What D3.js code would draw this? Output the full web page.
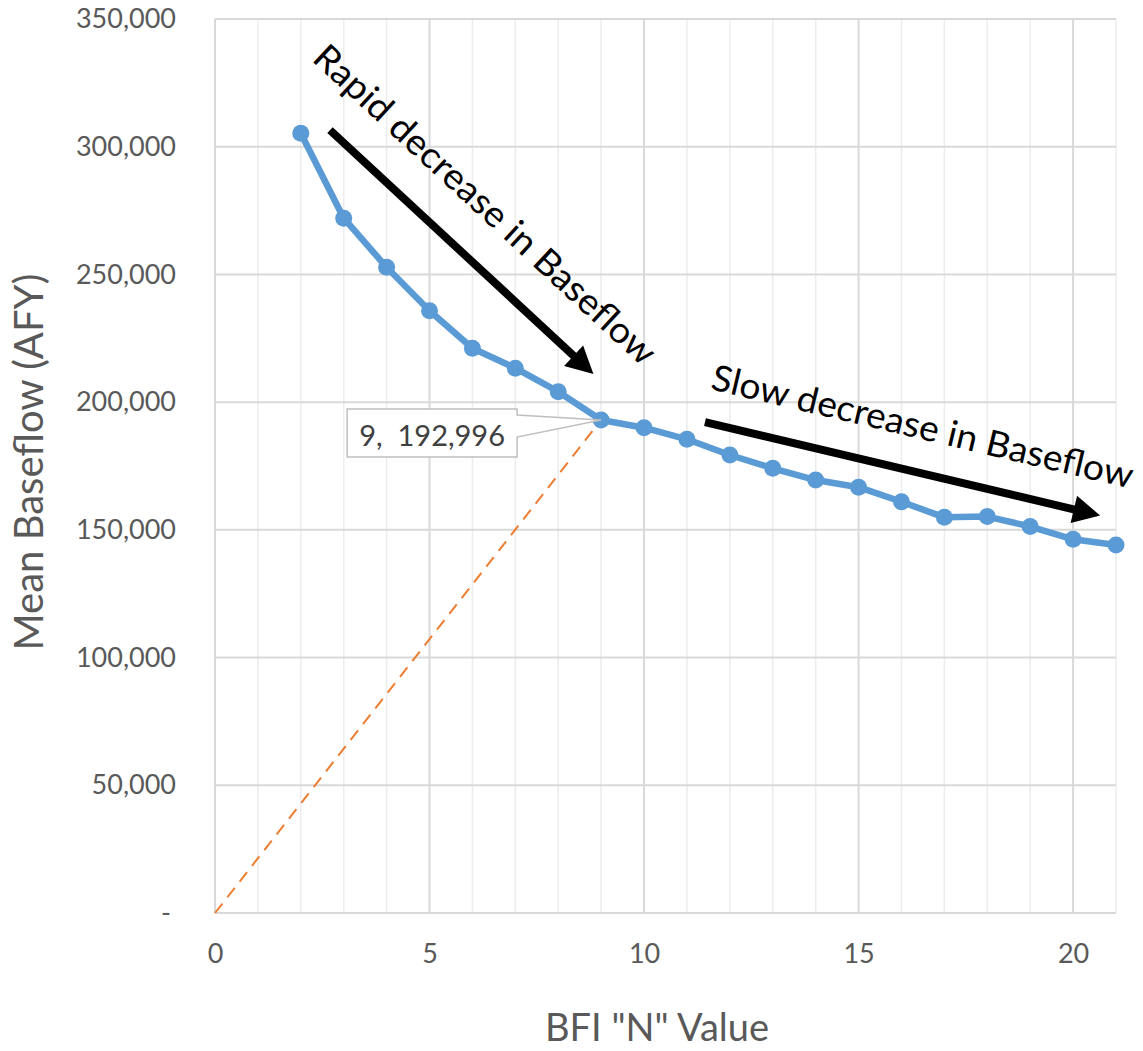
<!DOCTYPE html>
<html><head><meta charset="utf-8">
<script src="https://cdn.jsdelivr.net/npm/d3@7"></script>
<style>body{margin:0;background:#fff}svg{display:block}</style>
</head><body>
<svg id="c" width="1143" height="1051"></svg>
<script>
const nValues = [2,3,4,5,6,7,8,9,10,11,12,13,14,15,16,17,18,19,20,21];
const baseflow = [305300,272000,252800,235800,221100,213300,204100,192996,190000,185450,179300,174100,169500,166700,161000,154900,155200,151300,146300,144100];
const trendLine = [[0,0],[9,192996]];
const xTicks = [0,5,10,15,20];
const yTicks = [0,50000,100000,150000,200000,250000,300000,350000];
const yTickLabels = ["-","50,000","100,000","150,000","200,000","250,000","300,000","350,000"];
const arrows = [
  {from:[2.68,306500], to:[8.82,211000], text:"Rapid decrease in Baseflow", at:[6.32,277800], len:452},
  {from:[11.42,192200], to:[20.63,155600], text:"Slow decrease in Baseflow", at:[16.50,191000], len:432}
];
const callout = {point:[9,192996], label:"9,  192,996"};

const svg = d3.select("#c");
const font = "Lato, 'Open Sans', sans-serif";
const x = d3.scaleLinear().domain([0,21]).range([215,1116]);
const y = d3.scaleLinear().domain([0,350000]).range([913,19]);

// grid
const g = svg.append("g");
g.selectAll(".vmin").data(d3.range(1,22).filter(v=>v%5!==0)).join("line")
  .attr("x1",d=>x(d)).attr("x2",d=>x(d)).attr("y1",y(350000)).attr("y2",y(0))
  .attr("stroke","#ececec").attr("stroke-width",1.5);
g.selectAll(".vmaj").data(xTicks).join("line")
  .attr("x1",d=>x(d)).attr("x2",d=>x(d)).attr("y1",y(350000)).attr("y2",y(0))
  .attr("stroke","#d9d9d9").attr("stroke-width",2);
g.selectAll(".h").data(yTicks).join("line")
  .attr("x1",x(0)).attr("x2",x(21)).attr("y1",d=>y(d)).attr("y2",d=>y(d))
  .attr("stroke","#d9d9d9").attr("stroke-width",2);

// axes labels
const xa = svg.append("g").attr("transform",`translate(0,${y(0)})`)
  .call(d3.axisBottom(x).tickValues(xTicks).tickSize(0).tickPadding(31));
xa.select(".domain").remove();
xa.selectAll("text").attr("font-family",font).attr("font-size",27).attr("fill","#595959");

const ya = svg.append("g").attr("transform",`translate(${x(0)},0)`)
  .call(d3.axisLeft(y).tickValues(yTicks).tickSize(0).tickPadding(39)
    .tickFormat((d,i)=>yTickLabels[i]));
ya.select(".domain").remove();
ya.selectAll("text").attr("font-family",font).attr("font-size",27).attr("fill","#595959");
ya.selectAll(".tick").filter(d=>d===0).select("text").attr("dx",-5);

svg.append("text").attr("x",657).attr("y",1041).attr("text-anchor","middle")
  .attr("font-family",font).attr("font-size",38).attr("fill","#595959").text('BFI "N" Value');
svg.append("text").attr("transform","translate(43,462) rotate(-90)").attr("text-anchor","middle")
  .attr("font-family",font).attr("font-size",40).attr("fill","#595959").text("Mean Baseflow (AFY)");

// trend dashed
svg.append("path").datum(trendLine)
  .attr("d",d3.line().x(d=>x(d[0])).y(d=>y(d[1])))
  .attr("fill","none").attr("stroke","#ED7D31").attr("stroke-width",2).attr("stroke-dasharray","12,8");

// series
const data = nValues.map((n,i)=>[n,baseflow[i]]);
svg.append("path").datum(data)
  .attr("d",d3.line().x(d=>x(d[0])).y(d=>y(d[1])))
  .attr("fill","none").attr("stroke","#5B9BD5").attr("stroke-width",6.5).attr("stroke-linejoin","round");
svg.selectAll(".pt").data(data).join("circle")
  .attr("cx",d=>x(d[0])).attr("cy",d=>y(d[1])).attr("r",8.5).attr("fill","#5B9BD5");

// callout
const px = x(callout.point[0]), py = y(callout.point[1]);
const bx = px-254, byy = py-11, bw = 170, bh = 48;
svg.append("path")
  .attr("d",`M${bx},${byy} H${bx+bw} V${byy+6} L${px},${py} L${bx+bw},${byy+28} V${byy+bh} H${bx} Z`)
  .attr("fill","#fff").attr("stroke","#bfbfbf").attr("stroke-width",1.5);
svg.append("text").attr("x",bx+bw/2).attr("y",byy+bh/2+1).attr("text-anchor","middle")
  .attr("dominant-baseline","central").attr("xml:space","preserve").style("white-space","pre")
  .attr("font-family",font).attr("font-size",29).attr("fill","#404040").text(callout.label);

// arrows
arrows.forEach(a=>{
  const x1=x(a.from[0]), y1=y(a.from[1]), x2=x(a.to[0]), y2=y(a.to[1]);
  const ang = Math.atan2(y2-y1,x2-x1);
  const hl = 27, hw = 14;
  const bxp = x2-hl*Math.cos(ang), byp = y2-hl*Math.sin(ang);
  svg.append("line").attr("x1",x1).attr("y1",y1).attr("x2",bxp+2*Math.cos(ang)).attr("y2",byp+2*Math.sin(ang))
    .attr("stroke","#000").attr("stroke-width",8);
  const nx=-Math.sin(ang), ny=Math.cos(ang);
  svg.append("path").attr("d",`M${x2},${y2} L${bxp+nx*hw},${byp+ny*hw} L${bxp-nx*hw},${byp-ny*hw} Z`).attr("fill","#000");
  const deg = ang*180/Math.PI;
  svg.append("text").attr("transform",`translate(${x(a.at[0])},${y(a.at[1])}) rotate(${deg})`)
    .attr("text-anchor","middle").attr("dominant-baseline","central")
    .attr("font-family",font).attr("font-size",36).attr("fill","#000")
    .attr("textLength",a.len).attr("lengthAdjust","spacingAndGlyphs").text(a.text);
});
</script>
</body></html>
